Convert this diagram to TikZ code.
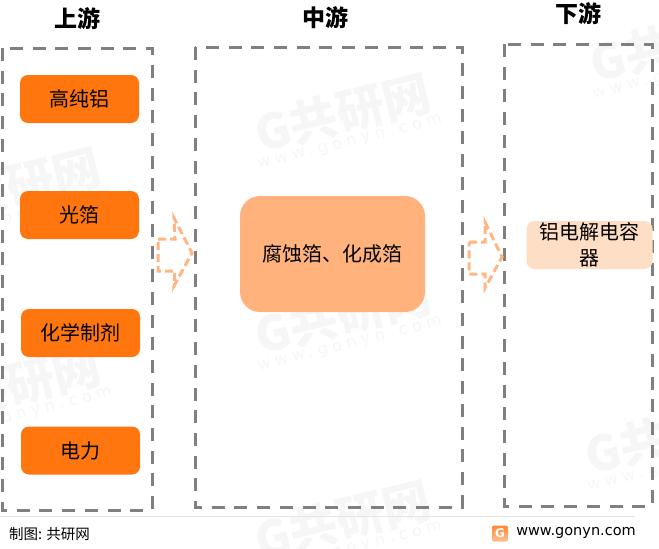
\documentclass[tikz,border=0pt]{standalone}
\usepackage{fontspec}
\setmainfont{Noto Sans CJK SC}
\newfontfamily\latinfont{DejaVu Sans}
\newfontfamily\markfont[LetterSpace=30]{DejaVu Sans}
\definecolor{boxgray}{RGB}{128,128,128}
\definecolor{deeporange}{RGB}{255,117,14}
\definecolor{midorange}{RGB}{255,178,124}
\definecolor{paleorange}{RGB}{255,222,198}
\definecolor{arroworange}{RGB}{255,182,130}
\definecolor{markgray}{RGB}{246,246,246}
\tikzset{
  stagebox/.style={draw=boxgray,line width=3pt,dash pattern=on 13pt off 9.7pt},
  stagetitle/.style={font=\bfseries\fontsize{23}{23}\selectfont},
  itembox/.style={fill=deeporange,rounded corners=8pt,minimum width=119pt,minimum height=48pt,font=\fontsize{20}{20}\selectfont},
  flowarrow/.style={draw=arroworange,line width=3pt,dash pattern=on 8pt off 4pt},
  markname/.style={text=markgray,rotate=14,font=\bfseries\fontsize{48}{48}\selectfont},
  markweb/.style={text=markgray,rotate=14,font=\markfont\fontsize{16}{16}\selectfont},
}
\begin{document}
\begin{tikzpicture}[x=1pt,y=-1pt]
  \useasboundingbox (0,0) rectangle (659,549);
  % watermarks
  \foreach \mx/\my/\mi in {343/113/a,343/315/b,13/386/c,13/187/d,678/43/e,673/435/f,343/520/g}{
    \node[markname] (name\mi) at (\mx,\my) {G共研网};
    \node[markweb] (web\mi) at (\mx+7,\my+30) {www.gonyn.com};
  }
  % stages
  \draw[stagebox] (2,48) rectangle (152,510);
  \draw[stagebox] (195,47) rectangle (462,507);
  \draw[stagebox] (504,44) rectangle (652,506);
  \node[stagetitle] (up) at (77,19) {上游};
  \node[stagetitle] (mid) at (325,18) {中游};
  \node[stagetitle] (down) at (578,14) {下游};
  % items
  \node[itembox] (alu) at (79.5,99) {高纯铝};
  \node[itembox] (foil) at (79.5,215) {光箔};
  \node[itembox] (chem) at (80.5,333) {化学制剂};
  \node[itembox] (power) at (80.5,450.5) {电力};
  \node[fill=midorange,rounded corners=20pt,minimum width=185pt,minimum height=116pt,font=\fontsize{20}{20}\selectfont] (etch) at (332.5,254) {腐蚀箔、化成箔};
  \node[fill=paleorange,rounded corners=8pt,minimum width=126pt,minimum height=48pt,inner sep=0pt,align=center,font=\fontsize{20}{26}\selectfont] (cap) at (589.5,245) {铝电解电容\\器};
  % arrows
  \draw[flowarrow] (158,239) -- (175,239) -- (174,218) -- (192,253) -- (174,286) -- (175,271) -- (158,271) -- cycle;
  \draw[flowarrow] (469,242) -- (485,242) -- (485,222) -- (502,257) -- (485,288) -- (485,274) -- (469,274) -- cycle;
  % footer
  \draw[black!10,line width=0.8pt] (0,516) -- (635,516);
  \node[font=\fontsize{14.5}{15}\selectfont] (source) at (49.5,534.5) {制图: 共研网};
  \node[top color=deeporange!85,bottom color=deeporange!45,rounded corners=2pt,minimum size=16pt,inner sep=0pt,text=white,font=\latinfont\bfseries\fontsize{12}{12}\selectfont] (logo) at (500,533.5) {G};
  \node[font=\latinfont\fontsize{14.5}{15}\selectfont] (site) at (576,533) {www.gonyn.com};
\end{tikzpicture}
\end{document}
